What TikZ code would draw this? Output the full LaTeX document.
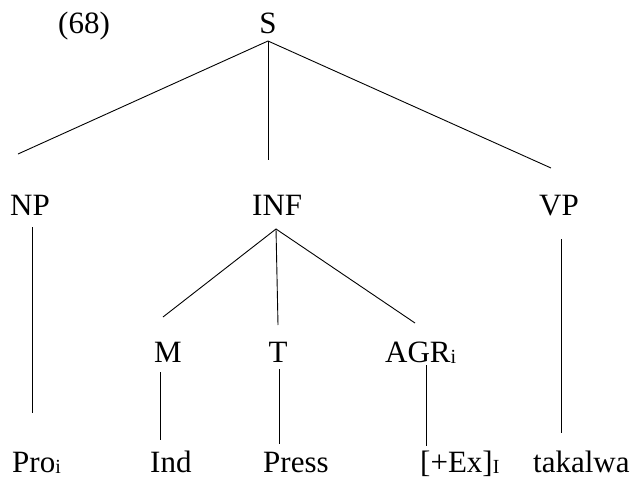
\documentclass[tikz,border=0pt]{standalone}
\usepackage{fontspec}
\setmainfont{Liberation Serif}
\newcommand{\lsub}[1]{\raisebox{-0.06em}{\fontsize{20}{21}\selectfont #1}}
\begin{document}
\begin{tikzpicture}[x=1pt,y=-1pt,
  lab/.style={inner sep=0pt,font=\fontsize{31}{33}\selectfont},
  br/.style={line width=0.9pt}]
\useasboundingbox (0,0) rectangle (634,479);
% labels
\node[lab,anchor=base west] (num) at (58,33) {(68)};
\node[lab,anchor=base] (S) at (268,33) {S};
\node[lab,anchor=base west] (NP) at (10,215) {NP};
\node[lab,anchor=base west] (INF) at (252,215) {INF};
\node[lab,anchor=base] (VP) at (559,215) {VP};
\node[lab,anchor=base] (M) at (168,362) {M};
\node[lab,anchor=base] (T) at (278,362) {T};
\node[lab,anchor=base west] (AGR) at (385,362) {AGR\lsub{i}};
\node[lab,anchor=base west] (Pro) at (12,472) {Pro\lsub{i}};
\node[lab,anchor=base west] (Ind) at (150,472) {Ind};
\node[lab,anchor=base west] (Press) at (263,472) {Press};
\node[lab,anchor=base west] (Ex) at (420,472) {[+Ex]\lsub{I}};
\node[lab,anchor=base west] (tak) at (533,472) {takalwa};
% branch points
\coordinate (s0) at (268,41);
\coordinate (s1) at (18,154);
\coordinate (s2) at (268,160);
\coordinate (s3) at (551,168);
\coordinate (i0) at (276,229);
\coordinate (i1) at (163,317);
\coordinate (i2) at (278,325);
\coordinate (i3) at (415,323);
\coordinate (np0) at (32,227);
\coordinate (np1) at (32,413);
\coordinate (vp0) at (561,239);
\coordinate (vp1) at (561,433);
\coordinate (m0) at (160,372);
\coordinate (m1) at (160,440);
\coordinate (t0) at (279,369);
\coordinate (t1) at (279,444);
\coordinate (a0) at (426,365);
\coordinate (a1) at (426,446);
\draw[br] (s1) -- (s0) -- (s3);
\draw[br] (s0) -- (s2);
\draw[br] (i1) -- (i0) -- (i3);
\draw[br] (i0) -- (i2);
\draw[br] (np0) -- (np1);
\draw[br] (vp0) -- (vp1);
\draw[br] (m0) -- (m1);
\draw[br] (t0) -- (t1);
\draw[br] (a0) -- (a1);
\end{tikzpicture}
\end{document}
